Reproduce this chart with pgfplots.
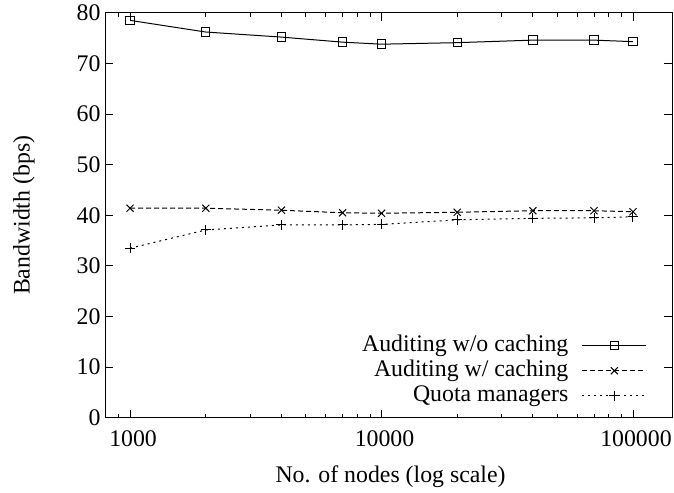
\documentclass[border=0pt]{standalone}
\usepackage{fontspec}
\setmainfont{Liberation Serif}
\usepackage{pgfplots}
\pgfplotsset{compat=1.18}
\newcommand{\fs}{\fontsize{23.8}{27}\selectfont}
\begin{document}
\begin{tikzpicture}
\begin{axis}[name=ax, scale only axis, width=567pt, height=405pt,
  xmode=log, xmin=795, xmax=143000, ymin=0, ymax=80,
  xtick={1000,10000,100000}, xticklabels={1000,10000,100000},
  minor xtick={900,2000,3000,4000,5000,6000,7000,8000,9000,20000,30000,40000,50000,60000,70000,80000,90000},
  ytick={0,10,20,30,40,50,60,70,80},
  /pgf/number format/assume math mode=true,
  tick align=inside, major tick length=8pt, minor tick length=4pt,
  tick style={line width=0.9pt, black},
  axis line style={line width=1pt},
  every tick label/.append style={font=\fs},
  xticklabel style={yshift=-9pt, xshift=3pt},
  yticklabel style={xshift=-1pt},
  label style={font=\fs},
  xlabel={No. of nodes (log scale)},
  xlabel style={at={(axis description cs:0.5,0)}, anchor=base, yshift=-65pt, xshift=2pt},
  ylabel={Bandwidth (bps)},
  ylabel style={at={(axis description cs:0,0.5)}, anchor=center, yshift=81pt},
  legend plot pos=right,
  legend cell align=right,
  legend style={font=\fs, draw=none, fill=none, inner sep=0pt, row sep=0pt, column sep=12pt,
    nodes={inner sep=1.5pt, text height=17pt, text depth=5pt},
    at={(rel axis cs:0.956,0.023)}, anchor=south east},
  legend image code/.code={\draw[mark repeat=2,mark phase=2,#1] plot coordinates {(0pt,0pt) (32pt,0pt) (64pt,0pt)};},
]
\addplot[black, line width=1pt, mark=square, mark size=4.2pt, mark options={solid, line width=1pt}] coordinates {
  (1000,78.5) (2000,76.2) (4000,75.2) (7000,74.2) (10000,73.8) (20000,74.1) (40000,74.6) (70000,74.6) (100000,74.3)};
\addlegendentry{Auditing w/o caching}
\addplot[black, line width=1pt, dash pattern=on 5pt off 3pt, mark=x, mark size=5pt, mark options={solid, line width=1pt}] coordinates {
  (1000,41.4) (2000,41.4) (4000,41.0) (7000,40.5) (10000,40.4) (20000,40.6) (40000,40.9) (70000,40.9) (100000,40.7)};
\addlegendentry{Auditing w/ caching}
\addplot[black, line width=1pt, dash pattern=on 2pt off 4pt, mark=+, mark size=5pt, mark options={solid, line width=1pt}] coordinates {
  (1000,33.5) (2000,37.1) (4000,38.1) (7000,38.1) (10000,38.2) (20000,39.1) (40000,39.4) (70000,39.5) (100000,39.7)};
\addlegendentry{Quota managers}
\end{axis}
\pgfresetboundingbox
\path ([shift={(-105pt,-75.2pt)}]ax.south west) rectangle ([shift={(2pt,12.8pt)}]ax.north east);
\end{tikzpicture}
\end{document}
